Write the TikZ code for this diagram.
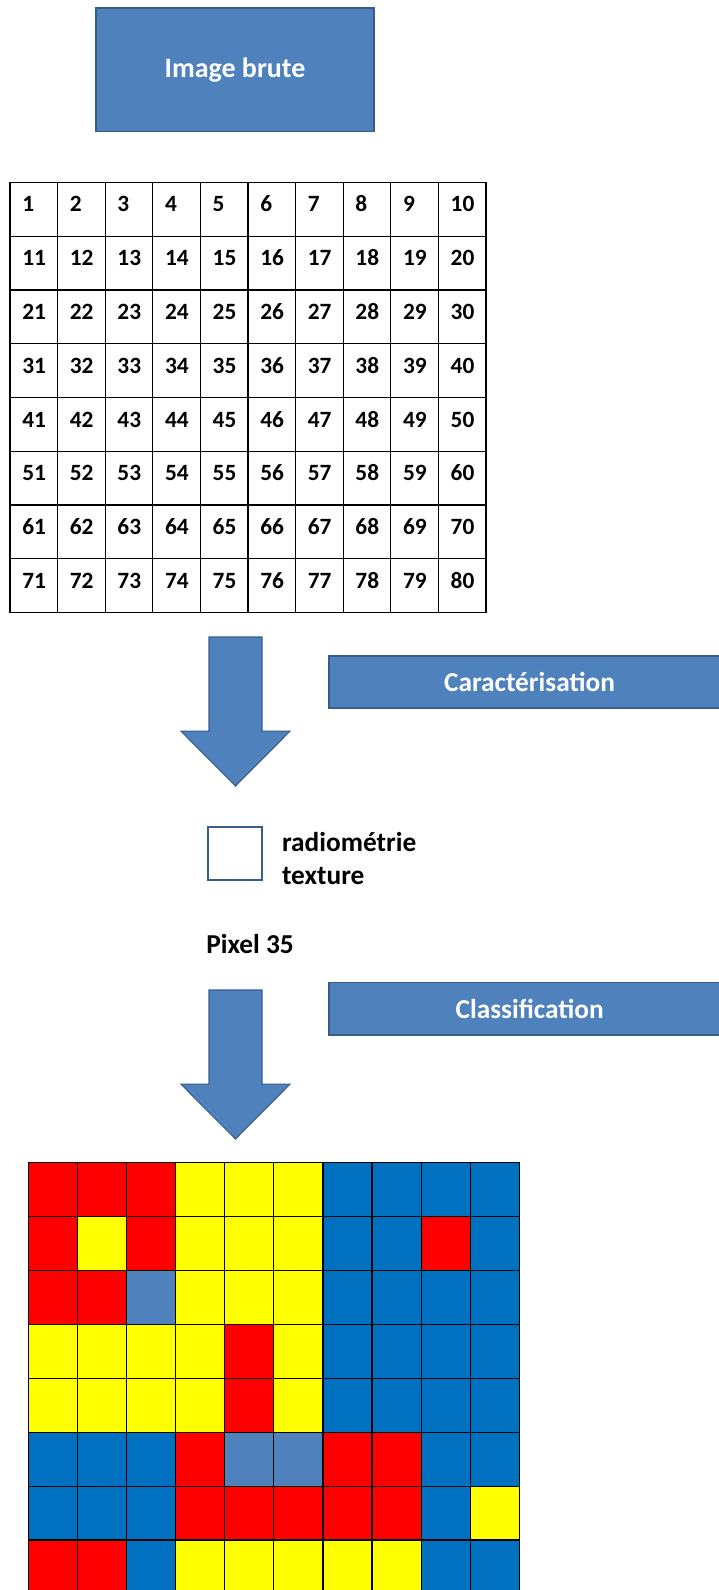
\documentclass[tikz,border=0pt]{standalone}
\usepackage{fontspec}
\setmainfont{Carlito}
\definecolor{officeblue}{HTML}{4F81BD}
\definecolor{officeedge}{HTML}{385D8A}
\definecolor{clsR}{HTML}{FF0000}
\definecolor{clsY}{HTML}{FFFF00}
\definecolor{clsB}{HTML}{0070C0}
\definecolor{clsL}{HTML}{4F81BD}
\tikzset{
  blockfill/.style={fill=officeblue, draw=officeedge, line width=1.2pt},
  labeltext/.style={font=\fontsize{20.5}{24}\selectfont\bfseries, inner sep=0pt},
  whitetext/.style={labeltext, text=white},
  pixnum/.style={font=\fontsize{17.5}{21}\selectfont\bfseries, anchor=base west, inner sep=0pt},
}
\begin{document}
\begin{tikzpicture}[x=0.75pt,y=-0.75pt]
\def\pxl{0.75pt}
\def\cw{47.6}
\def\ch{53.75}
\def\gw{49.1}
\def\gh{53.9}
\useasboundingbox (0,0) rectangle (718,1590);

\node[blockfill, whitetext, font=\fontsize{21}{24}\selectfont\bfseries, minimum width=278*\pxl, minimum height=123.4*\pxl] (brute) at (235,70) {Image brute};

% numbered pixels
\begin{scope}[shift={(10,182.5)}]
\foreach \r in {0,...,7}{
\foreach \c in {0,...,9}{
\pgfmathtruncatemacro{\n}{10*\r+\c+1}
\draw [line width=1pt] (\c*\cw,\r*\ch) rectangle (\c*\cw+\cw,\r*\ch+\ch);
\node[pixnum] (p\n) at (\c*\cw+12,\r*\ch+29.5) {\n};
}
}
\end{scope}

% block arrows
\foreach \ytop in {637,990}{
\begin{scope}[shift={(0,\ytop)}]
\draw [blockfill, line width=0.8pt] (209,0) -- (262,0) -- (262,94.2) -- (290,94.2) -- (235.5,149) -- (181,94.2) -- (209,94.2) -- cycle;
\end{scope}
}

\draw [blockfill] (329,656) rectangle (730,707.7);
\node[whitetext] (carac) at (529.5,682) {Caractérisation};

\node[draw=officeedge, line width=1.5pt, fill=white, minimum size=53.5*\pxl, inner sep=0pt] (pixel) at (235.2,853.7) {};
\node[labeltext, anchor=base west] (radio) at (281.8,851) {radiométrie};
\node[labeltext, anchor=base west] (textu) at (281.8,884) {texture};
\node[labeltext, anchor=base west] (pix35) at (206,953.3) {Pixel 35};

\draw [blockfill] (329,982.3) rectangle (730,1035);
\node[whitetext] (classif) at (529.7,1008.6) {Classification};

% classified image
\begin{scope}[shift={(28.3,1162.7)}]
\foreach \rowcols [count=\r from 0] in {{R,R,R,Y,Y,Y,B,B,B,B},{R,Y,R,Y,Y,Y,B,B,R,B},{R,R,L,Y,Y,Y,B,B,B,B},{Y,Y,Y,Y,R,Y,B,B,B,B},{Y,Y,Y,Y,R,Y,B,B,B,B},{B,B,B,R,L,L,R,R,B,B},{B,B,B,R,R,R,R,R,B,Y},{R,R,B,Y,Y,Y,Y,Y,B,B}}{
\foreach \col [count=\c from 0] in \rowcols{
\draw [fill=cls\col, line width=0.9pt] (\c*\gw,\r*\gh) rectangle (\c*\gw+\gw,\r*\gh+\gh);
}
}
\end{scope}

\end{tikzpicture}
\end{document}
